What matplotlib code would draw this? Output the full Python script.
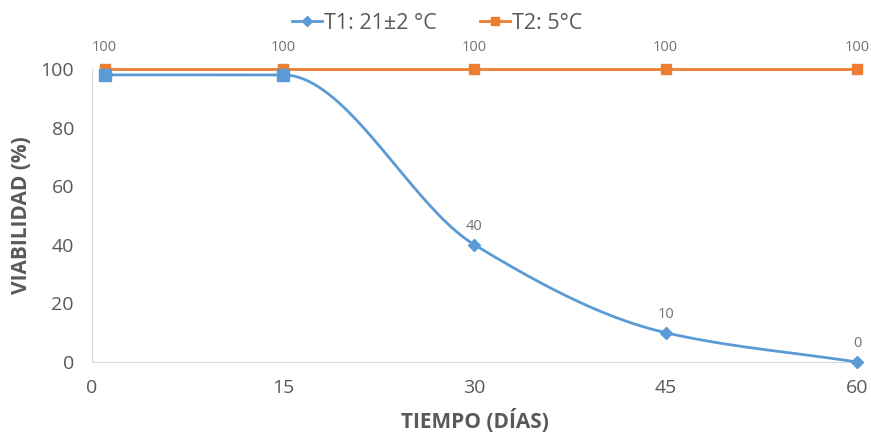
import numpy as np
import matplotlib
matplotlib.use("Agg")
import matplotlib.pyplot as plt
from matplotlib.lines import Line2D

# viability over time at two storage temperatures
dias = [1, 15, 30, 45, 60]
t1_viab = [98, 98, 40, 10, 0]
t2_viab = [100, 100, 100, 100, 100]
t1_nombre = "T1: 21±2 °C"
t2_nombre = "T2: 5°C"
x_ticks = [0, 15, 30, 45, 60]
y_ticks = [0, 20, 40, 60, 80, 100]

AZUL = "#5B9BD5"
NARANJA = "#ED7D31"
GRIS = "#595959"
GRIS_ETIQ = "#737373"

plt.rcParams['font.family'] = ['Open Sans', 'DejaVu Sans']


def suavizar(x, y, n=300):
    # monotone cubic (Fritsch-Carlson) so flat stretches stay flat
    x = np.asarray(x, float)
    y = np.asarray(y, float)
    h = np.diff(x)
    d = np.diff(y) / h
    m = np.zeros_like(y)
    for i in range(1, len(x) - 1):
        if d[i - 1] * d[i] > 0:
            w1 = 2 * h[i] + h[i - 1]
            w2 = h[i] + 2 * h[i - 1]
            m[i] = (w1 + w2) / (w1 / d[i - 1] + w2 / d[i])
    m[0] = d[0]
    m[-1] = d[-1]
    xs = np.linspace(x[0], x[-1], n)
    idx = np.clip(np.searchsorted(x, xs) - 1, 0, len(h) - 1)
    t = (xs - x[idx]) / h[idx]
    h00 = 2 * t**3 - 3 * t**2 + 1
    h10 = t**3 - 2 * t**2 + t
    h01 = -2 * t**3 + 3 * t**2
    h11 = t**3 - t**2
    ys = (h00 * y[idx] + h10 * h[idx] * m[idx]
          + h01 * y[idx + 1] + h11 * h[idx] * m[idx + 1])
    return xs, ys


fig = plt.figure(figsize=(8.71, 4.34), dpi=100)
ax = fig.add_axes([0.1056, 0.1659, 0.8783, 0.6751])

ax.plot(dias, t2_viab, color=NARANJA, lw=2, marker="s", ms=7,
        clip_on=False, zorder=3)

xs, ys = suavizar(dias, t1_viab)
ax.plot(xs, ys, color=AZUL, lw=2, clip_on=False, zorder=4)
ax.plot(dias[:2], t1_viab[:2], ls="none", marker="s", ms=8, color=AZUL,
        clip_on=False, zorder=5)
ax.plot(dias[2:], t1_viab[2:], ls="none", marker="D", ms=6, color=AZUL,
        clip_on=False, zorder=5)

for x, v in zip(dias, t2_viab):
    ax.annotate(f"{v}", (x, v), xytext=(0, 10), textcoords="offset points",
                ha="center", va="bottom", fontsize=10.5, color=GRIS_ETIQ)
for x, v in zip(dias[2:], t1_viab[2:]):
    ax.annotate(f"{v}", (x, v), xytext=(0, 8), textcoords="offset points",
                ha="center", va="bottom", fontsize=10.5, color=GRIS_ETIQ)

ax.set_xlim(0, 60)
ax.set_ylim(0, 100)
ax.set_xticks(x_ticks)
ax.set_yticks(y_ticks)
ax.tick_params(length=0, labelsize=14, labelcolor=GRIS)
ax.tick_params(axis="x", pad=12)
ax.tick_params(axis="y", pad=13)
for s in ["top", "right"]:
    ax.spines[s].set_visible(False)
for s in ["left", "bottom"]:
    ax.spines[s].set_color("#D9D9D9")

ax.set_xlabel("TIEMPO (DÍAS)", fontsize=15, fontweight="bold", color=GRIS,
              labelpad=9)
ax.set_ylabel("VIABILIDAD (%)", fontsize=15, fontweight="bold", color=GRIS,
              labelpad=6)

handles = [
    Line2D([], [], color=AZUL, lw=2, marker="D", ms=5),
    Line2D([], [], color=NARANJA, lw=2, marker="s", ms=6),
]
fig.legend(handles, [t1_nombre, t2_nombre], loc="center",
           bbox_to_anchor=(0.502, 0.947), ncol=2, frameon=False,
           fontsize=15.5, labelcolor=GRIS, handlelength=1.4,
           handletextpad=0.1, columnspacing=2.0)

fig.savefig("out.png", dpi=100)
